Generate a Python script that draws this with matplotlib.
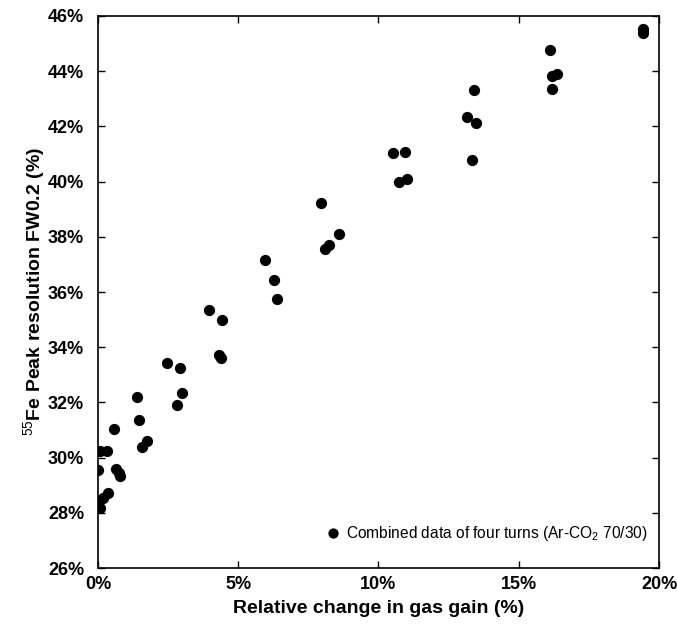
import matplotlib
matplotlib.use("Agg")
import matplotlib.pyplot as plt
from matplotlib.ticker import FuncFormatter, MultipleLocator

plt.rcParams['font.family'] = ['Liberation Sans', 'DejaVu Sans']
plt.rcParams['mathtext.fontset'] = 'custom'
plt.rcParams['mathtext.rm'] = 'Liberation Sans'
plt.rcParams['mathtext.bf'] = 'Liberation Sans:bold'

# relative gain change (%) vs 55Fe FW0.2 resolution (%)
gain = [0.00, 0.06, 0.00, 0.18, 0.36, 0.07, 0.32, 0.57, 0.65, 0.75, 0.80,
        1.38, 1.45, 1.58, 1.74, 2.47, 2.94, 2.99, 2.83, 3.96, 4.42, 4.33, 4.39,
        5.94, 6.26, 6.37, 7.94, 8.58, 8.08, 8.22,
        10.52, 10.95, 10.73, 11.00, 13.40, 13.17, 13.47, 13.35,
        16.11, 16.20, 16.35, 16.20, 19.42, 19.44]
resol = [29.57, 28.18, 28.36, 28.54, 28.72, 30.23, 30.23, 31.04, 29.60, 29.45, 29.35,
         32.19, 31.35, 30.40, 30.60, 33.43, 33.23, 32.36, 31.90, 35.34, 35.00, 33.72, 33.60,
         37.17, 36.42, 35.75, 39.24, 38.12, 37.55, 37.69,
         41.02, 41.07, 39.98, 40.08, 43.31, 42.35, 42.13, 40.78,
         44.78, 43.84, 43.89, 43.37, 45.54, 45.39]

fig = plt.figure(figsize=(6.78, 6.27), dpi=100)
ax = fig.add_axes([0.1445, 0.094, 0.8275, 0.8805])

ax.scatter(gain, resol, s=50, color='black', zorder=3,
           label='Combined data of four turns (Ar-CO$_2$ 70/30)')

ax.set_xlim(0, 20)
ax.set_ylim(26, 46)
ax.xaxis.set_major_locator(MultipleLocator(5))
ax.yaxis.set_major_locator(MultipleLocator(2))
ax.xaxis.set_major_formatter(FuncFormatter(lambda v, p: '%d%%' % v))
ax.yaxis.set_major_formatter(FuncFormatter(lambda v, p: '%d%%' % v))
ax.tick_params(direction='in', length=5, width=1, top=True, right=True, labelsize=13)
ax.tick_params(axis='y', pad=10)
ax.tick_params(axis='x', pad=6)
for lab in ax.get_xticklabels() + ax.get_yticklabels():
    lab.set_fontweight('bold')
for s in ax.spines.values():
    s.set_linewidth(1.2)

ax.set_xlabel('Relative change in gas gain (%)', fontsize=14, fontweight='bold', labelpad=5)
ax.set_ylabel('$^{55}$Fe Peak resolution FW0.2 (%)', fontsize=14, fontweight='bold', labelpad=0)

ax.legend(loc='lower right', bbox_to_anchor=(0.99, 0.035), borderaxespad=0,
          frameon=False, fontsize=11.2, handletextpad=0.0, handlelength=1.6,
          markerscale=0.9)

plt.savefig("out.png", dpi=100)
